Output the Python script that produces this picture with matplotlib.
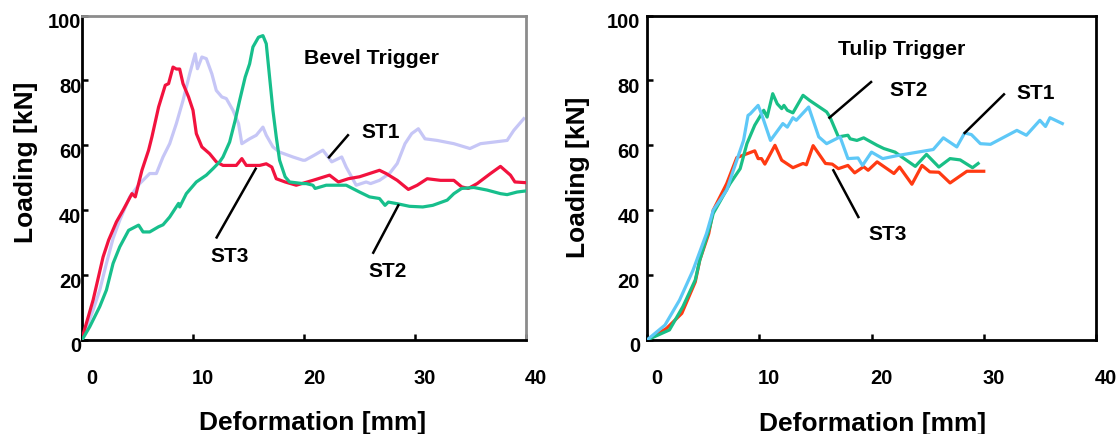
import matplotlib
matplotlib.use("Agg")
import matplotlib.pyplot as plt
from matplotlib.transforms import ScaledTranslation

plt.rcParams['font.family'] = ['Liberation Sans', 'DejaVu Sans']
plt.rcParams['font.weight'] = 'bold'

# ---------------- data: Bevel trigger ----------------
bevel_st1_x = [0, 1.0, 1.6, 2.2, 2.8, 3.4, 4.3, 5.2, 6.1, 6.7, 7.3, 7.9, 8.5, 9.1, 9.7, 10.2, 10.4, 10.8, 11.2,
               11.7, 12.1, 12.6, 13.0, 13.6, 14.1, 14.4, 15.1, 15.7, 16.3, 16.6, 17.2, 17.8, 19.0, 19.9, 20.1,
               20.9, 21.7, 22.5, 23.4, 23.8, 24.7, 25.6, 26.0, 26.8, 27.7, 28.4, 29.1, 29.7, 30.3, 30.9, 32.0,
               33.5, 34.95, 35.9, 37.1, 38.3, 38.9, 39.8]
bevel_st1_y = [0, 9.2, 15.4, 23.6, 31.3, 36.9, 44.1, 48.2, 51.3, 51.3, 56.4, 60.5, 66.7, 73.8, 82, 88.2, 83.6, 87.2,
               86.7, 82, 76.9, 74.9, 74.4, 70.8, 66.7, 60.5, 62, 63.1, 65.6, 63.1, 59.5, 57.9, 56.4, 55.4, 55.4,
               56.9, 58.5, 54.9, 56.4, 53.3, 47.7, 48.7, 48.2, 49.2, 51.3, 54.4, 60.5, 63.6, 65.1, 62, 61.5,
               60.5, 59, 60.5, 61, 61.5, 64.6, 68.2]

bevel_st2_x = [0, 0.7, 1.6, 2.2, 2.8, 3.4, 4.2, 5.1, 5.5, 6.1, 6.9, 7.3, 7.9, 8.7, 8.8, 9.4, 10.3, 11.2, 11.8,
               12.4, 12.7, 13.3, 13.8, 14.2, 14.7, 15.1, 15.4, 15.9, 16.3, 16.6, 16.9, 17.2, 17.5, 17.8, 18.3,
               18.7, 19.9, 20.2, 20.8, 21.0, 22.0, 23.8, 25.0, 25.9, 26.8, 27.3, 27.6, 28.4, 29.5, 30.7, 31.6,
               32.9, 33.5, 34.2, 35.3, 36.5, 37.7, 38.3, 39.2, 39.9]
bevel_st2_y = [0, 4.1, 10.3, 15.4, 23.6, 28.7, 33.8, 35.4, 33.3, 33.3, 34.9, 35.5, 37.9, 42.1, 41, 45.1, 48.7, 50.8,
               52.8, 54.9, 56.4, 61, 67.7, 73.8, 81, 85.1, 90.3, 93.3, 93.8, 91.3, 81, 70.8, 62.6, 55.4, 50.3,
               48.7, 48.2, 48.2, 47.7, 46.7, 47.7, 47.7, 45.6, 44.1, 43.6, 41.5, 42.5, 42, 41.2, 41, 41.5,
               43.1, 45.1, 46.7, 47, 46.2, 45.1, 44.8, 45.6, 45.9]

bevel_st3_x = [0, 1.0, 1.9, 2.4, 3.1, 3.7, 4.5, 4.8, 5.4, 6.0, 6.3, 6.9, 7.5, 7.8, 8.2, 8.5, 8.8, 9.1, 9.6, 10.0,
               10.3, 10.8, 11.5, 12.1, 12.7, 13.9, 14.4, 14.8, 16.0, 16.6, 17.1, 17.5, 18.3, 19.3, 20.8, 22.3,
               23.1, 24.0, 25.0, 25.9, 26.8, 27.4, 28.4, 29.4, 30.2, 31.1, 32.3, 33.5, 34.2, 34.8, 35.6, 36.8,
               37.7, 38.6, 39.0, 39.9]
bevel_st3_y = [0.5, 12.3, 25.6, 30.8, 36.4, 40, 45.1, 44.1, 52.3, 58.5, 62.6, 71.8, 78.5, 79, 84.1, 83.5, 83.5, 79,
               74.9, 70.8, 63.6, 59.5, 57.4, 54.9, 53.8, 53.8, 55.9, 53.8, 53.8, 54.3, 53.3, 49.7, 48.7, 47.7,
               49.2, 50.8, 48.7, 49.7, 50.3, 51.3, 52.3, 51.3, 49.2, 46.4, 47.7, 49.7, 49.2, 49.2, 47.2, 46.7,
               48.2, 51.3, 53.5, 50.8, 48.7, 48.5]

# ---------------- data: Tulip trigger ----------------
tulip_st1_x = [0, 1.6, 2.9, 4.1, 5.3, 5.9, 7.1, 8.0, 8.6, 9.0, 9.2, 9.9, 10.2, 11.0, 12.1, 12.5, 13.0, 13.3, 14.4,
               15.3, 16.0, 17.2, 17.9, 18.8, 19.2, 20.0, 21.0, 22.4, 25.5, 26.4, 27.6, 28.3, 28.9, 29.7, 30.6,
               32.95, 33.8, 35.0, 35.5, 35.9, 37.0]
tulip_st1_y = [0, 4.6, 12.3, 21.5, 32.8, 40, 46.2, 55.4, 61.5, 69.2, 69.7, 72.3, 69.7, 61.5, 66.7, 65.6, 68.5, 67.7,
               71.8, 62.6, 60.5, 62.6, 55.9, 56.1, 53.8, 57.9, 55.9, 56.9, 58.7, 62.3, 59.5, 63.8, 63.3, 60.5,
               60.3, 64.6, 63.1, 67.7, 65.8, 68.5, 66.7]

tulip_st2_x = [0, 2.0, 3.2, 4.3, 4.7, 5.6, 5.9, 7.4, 8.3, 8.9, 9.6, 10.4, 10.7, 11.2, 11.6, 12.0, 12.2, 12.5, 13.0,
               13.9, 14.5, 16.0, 16.3, 17.05, 17.9, 18.1, 18.7, 19.3, 20.5, 21.1, 22.1, 22.7, 23.9, 24.9, 26.0,
               27.0, 27.9, 29.0, 29.5]
tulip_st2_y = [0, 3.1, 10.3, 18.5, 24.6, 34.9, 39, 48.2, 52.8, 60.5, 66.2, 70.8, 68.7, 75.9, 72.8, 71.3, 72.3, 70.8,
               70, 75.4, 73.8, 70.3, 68.7, 62.6, 63.1, 62, 61.5, 62.3, 60, 59, 57.9, 56.4, 53.5, 57.2, 53.3,
               55.9, 55.5, 53.1, 54.4]

tulip_st3_x = [0, 1.75, 3.1, 4.3, 4.7, 5.5, 5.9, 7.1, 8.0, 9.6, 9.9, 10.2, 10.5, 11.4, 12.0, 13.0, 13.9, 14.2,
               14.8, 15.9, 16.5, 17.05, 17.9, 18.5, 19.3, 19.7, 20.5, 22.0, 22.5, 23.6, 24.5, 25.2, 26.0, 27.0,
               28.5, 30.0]
tulip_st3_y = [0, 3.6, 8.2, 17.9, 24.6, 32.8, 40, 48.2, 56.2, 58.3, 55.9, 55.9, 54.2, 60, 55.4, 53.1, 54.4, 54,
               59.9, 54.4, 54.2, 52.8, 53.8, 51.5, 53.4, 52.3, 54.9, 51.3, 53.3, 48, 53.8, 51.8, 51.7, 48.4,
               52, 52]

series_labels = ["ST1", "ST2", "ST3"]
titles = ["Bevel Trigger", "Tulip Trigger"]
x_ticks = [0, 10, 20, 30, 40]
y_ticks = [0, 20, 40, 60, 80, 100]
x_label = "Deformation [mm]"
y_label = "Loading [kN]"

# label placement (data coords): text position, leader line start, leader line end
bevel_ann = {"ST1": ((26.9, 64.0), (23.96, 63.1), (22.25, 56.3)),
             "ST3": ((13.3, 25.8), (12.13, 31.6), (15.65, 52.8)),
             "ST2": ((27.5, 21.0), (26.24, 26.9), (28.5, 41.5))}
tulip_ann = {"ST2": ((23.3, 76.9), (19.96, 79.5), (16.25, 68.5)),
             "ST1": ((34.6, 75.9), (31.8, 75.7), (28.3, 63.8)),
             "ST3": ((21.4, 32.6), (16.6, 52.3), (18.83, 37.9))}

bevel_colors = {"ST1": "#c6c6f6", "ST2": "#17bf8c", "ST3": "#f2123e"}
tulip_colors = {"ST1": "#5ec8f7", "ST2": "#19bf86", "ST3": "#ff3a12"}

fig = plt.figure(figsize=(11.2, 4.34), dpi=100)
axL = fig.add_axes([82 / 1120, 94 / 434, 444 / 1120, 324.5 / 434])
axR = fig.add_axes([647 / 1120, 94 / 434, 449 / 1120, 324.5 / 434])

LW = 2.3
axL.plot(bevel_st1_x, bevel_st1_y, color=bevel_colors["ST1"], lw=LW, zorder=2)
axL.plot(bevel_st3_x, bevel_st3_y, color=bevel_colors["ST3"], lw=LW, zorder=3)
axL.plot(bevel_st2_x, bevel_st2_y, color=bevel_colors["ST2"], lw=LW, zorder=4)

axR.plot(tulip_st3_x, tulip_st3_y, color=tulip_colors["ST3"], lw=LW, zorder=2)
axR.plot(tulip_st2_x, tulip_st2_y, color=tulip_colors["ST2"], lw=LW, zorder=3)
axR.plot(tulip_st1_x, tulip_st1_y, color=tulip_colors["ST1"], lw=LW, zorder=4)

for ax, ann, title, tpos in [(axL, bevel_ann, titles[0], (26.1, 86.8)),
                              (axR, tulip_ann, titles[1], (22.7, 89.4))]:
    ax.text(tpos[0], tpos[1], title, ha='center', va='center', fontsize=15.3, fontweight='bold')
    for lab in series_labels:
        (tx, ty), (x0, y0), (x1, y1) = ann[lab]
        ax.plot([x0, x1], [y0, y1], color='black', lw=1.8, zorder=5)
        ax.text(tx, ty, lab, ha='center', va='center', fontsize=15, fontweight='bold')

for ax, ypad in [(axL, 0.5), (axR, 5)]:
    ax.set_xlim(0, 40)
    ax.set_ylim(0, 100)
    ax.set_xticks(x_ticks)
    ax.set_yticks(y_ticks)
    ax.tick_params(axis='both', direction='in', length=4, width=1.8, labelsize=14.5)
    ax.tick_params(axis='x', pad=21)
    ax.tick_params(axis='y', pad=ypad)
    for t in ax.get_xticklabels():
        t.set_fontweight('bold')
        t.set_transform(t.get_transform() + ScaledTranslation(10 / 100, 0, fig.dpi_scale_trans))
    for t in ax.get_yticklabels():
        t.set_fontweight('bold')
        t.set_transform(t.get_transform() + ScaledTranslation(0, -5 / 100, fig.dpi_scale_trans))
    ax.set_xlabel(x_label, fontsize=19, fontweight='bold')
    ax.set_ylabel(y_label, fontsize=19, fontweight='bold')
    for s in ax.spines.values():
        s.set_linewidth(2.0)
        s.set_color('black')

axL.spines['top'].set_color('#8c8c8c')
axL.spines['right'].set_color('#8c8c8c')
axL.xaxis.set_label_coords(0.52, -0.218)
axL.yaxis.set_label_coords(-0.099, 0.549)
axR.xaxis.set_label_coords(0.503, -0.222)
axR.yaxis.set_label_coords(-0.127, 0.502)

fig.savefig("out.png", dpi=100)
